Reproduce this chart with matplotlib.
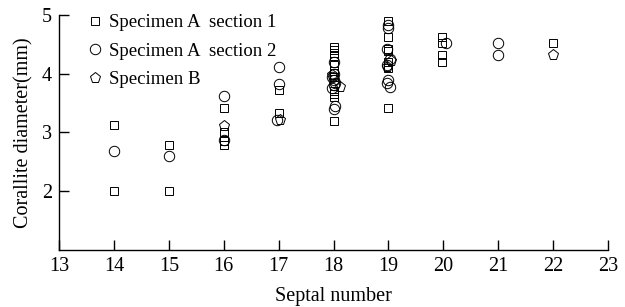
import numpy as np
import matplotlib
matplotlib.use("Agg")
import matplotlib.pyplot as plt

plt.rcParams['font.family'] = ['Liberation Serif', 'DejaVu Serif']

# Specimen A section 1 (squares)
sq_x = [14, 14, 15, 15, 16, 16, 16, 16, 17, 17,
        18, 18, 18, 18, 18, 18, 18, 18, 18, 18, 18,
        19, 19, 19, 19, 19, 19, 19,
        19.97, 19.97, 19.97, 19.97, 22]
sq_y = [3.13, 2.0, 2.79, 2.0, 3.42, 3.0, 2.85, 2.78, 3.72, 3.33,
        4.45, 4.4, 4.35, 4.3, 4.15, 4.05, 3.95, 3.7, 3.65, 3.6, 3.2,
        4.9, 4.62, 4.42, 4.38, 4.2, 4.1, 3.42,
        4.63, 4.53, 4.32, 4.2, 4.52]

# Specimen A section 2 (circles)
ci_x = [14, 15, 16, 16, 17, 17, 16.97,
        18, 18, 17.97, 18, 18.03, 18, 17.98, 18.02, 18,
        19, 19, 18.97, 19.02, 18.98, 19, 18.97, 19.02,
        20.05, 21, 21]
ci_y = [2.69, 2.6, 3.62, 2.88, 4.12, 3.83, 3.22,
        4.2, 4.0, 3.95, 3.9, 3.85, 3.8, 3.75, 3.45, 3.4,
        4.83, 4.78, 4.42, 4.25, 4.15, 3.9, 3.85, 3.78,
        4.52, 4.52, 4.32]

# Specimen B (pentagons)
pe_x = [16, 17.03, 18.12, 17.98, 19.05, 18.98, 22]
pe_y = [3.11, 3.22, 3.78, 3.97, 4.22, 4.12, 4.32]

xticks = list(range(13, 24))
yticks = [2, 3, 4, 5]

fig = plt.figure(figsize=(6.25, 3.07), dpi=100)
ax = fig.add_axes([0.0944, 0.1857, 0.8786, 0.7655])

mk = dict(linestyle='none', markerfacecolor='none', markeredgecolor='black',
          markeredgewidth=0.7)
ax.plot(sq_x, sq_y, marker='s', markersize=6, label='Specimen A  section 1', **mk)
ax.plot(ci_x, ci_y, marker='o', markersize=7.5, label='Specimen A  section 2', **mk)
ax.plot(pe_x, pe_y, marker='p', markersize=8, label='Specimen B', **mk)

ax.set_xlim(13, 23)
ax.set_ylim(1, 5)
ax.set_xticks(xticks)
ax.set_yticks(yticks)
ax.tick_params(direction='in', length=7, width=1, labelsize=14.5, pad=5)
for s in ['top', 'right']:
    ax.spines[s].set_visible(False)
for s in ['left', 'bottom']:
    ax.spines[s].set_linewidth(1)

ax.set_xlabel('Septal number', fontsize=14.5, labelpad=8)
ax.set_ylabel('Corallite diameter(mm)', fontsize=14.5, labelpad=6)

ax.legend(loc='upper left', bbox_to_anchor=(0.035, 1.035), frameon=False,
          fontsize=13.5, handletextpad=0.25, handlelength=1.0, labelspacing=0.6,
          borderaxespad=0)

fig.savefig('out.png', dpi=100)
